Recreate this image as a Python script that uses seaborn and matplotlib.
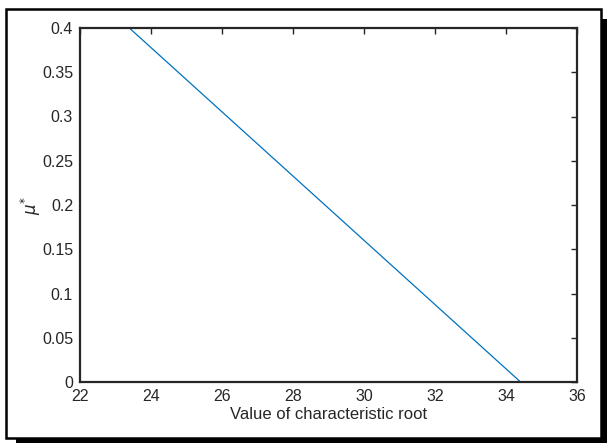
import matplotlib
matplotlib.use("Agg")
import matplotlib.pyplot as plt
import seaborn as sns
import pandas as pd
from matplotlib.patches import Rectangle

# endpoints
root_value = [23.39, 34.41]
mu_star = [0.4, 0.0]

x_ticks = [22, 24, 26, 28, 30, 32, 34, 36]
y_ticks = [0, 0.05, 0.1, 0.15, 0.2, 0.25, 0.3, 0.35, 0.4]

df = pd.DataFrame({"root": root_value, "mu": mu_star})

sns.set_style("white")
plt.rcParams['font.family'] = ['Liberation Sans', 'DejaVu Sans']

W, H = 607, 443
fig = plt.figure(figsize=(W / 100, H / 100), dpi=100)
ax = fig.add_axes([80 / W, 1 - 382 / H, (577 - 80) / W, (382 - 28) / H])

sns.lineplot(data=df, x="root", y="mu", ax=ax, color="#0072BD", linewidth=0.9)

ax.set_xlim(22, 36)
ax.set_ylim(0, 0.4)
ax.set_xticks(x_ticks)
ax.set_yticks(y_ticks)
ax.set_yticklabels(["0", "0.05", "0.1", "0.15", "0.2", "0.25", "0.3", "0.35", "0.4"])
ax.tick_params(direction="in", length=4, width=1, top=True, right=True,
               labelsize=11.5, colors="#262626", pad=5)
for s in ax.spines.values():
    s.set_visible(True)
    s.set_color("#262626")
    s.set_linewidth(1.6)

ax.set_xlabel("Value of characteristic root", fontsize=12, color="#262626", labelpad=2)
ax.set_ylabel(r"$\mu^{*}$", fontsize=12, color="#262626")
ax.yaxis.set_label_coords(-0.075, 0.5)

# outer frame with drop shadow
def px_rect(x0, y0, x1, y1, **kw):
    return Rectangle((x0 / W, 1 - y1 / H), (x1 - x0) / W, (y1 - y0) / H,
                     transform=fig.transFigure, **kw)

fig.patches.append(px_rect(601, 19, 607, 443, facecolor="black", edgecolor="none"))
fig.patches.append(px_rect(16, 438, 607, 443, facecolor="black", edgecolor="none"))
fig.patches.append(px_rect(6, 9, 601, 438, facecolor="none", edgecolor="black", linewidth=1.8))

fig.savefig("out.png", dpi=100)
